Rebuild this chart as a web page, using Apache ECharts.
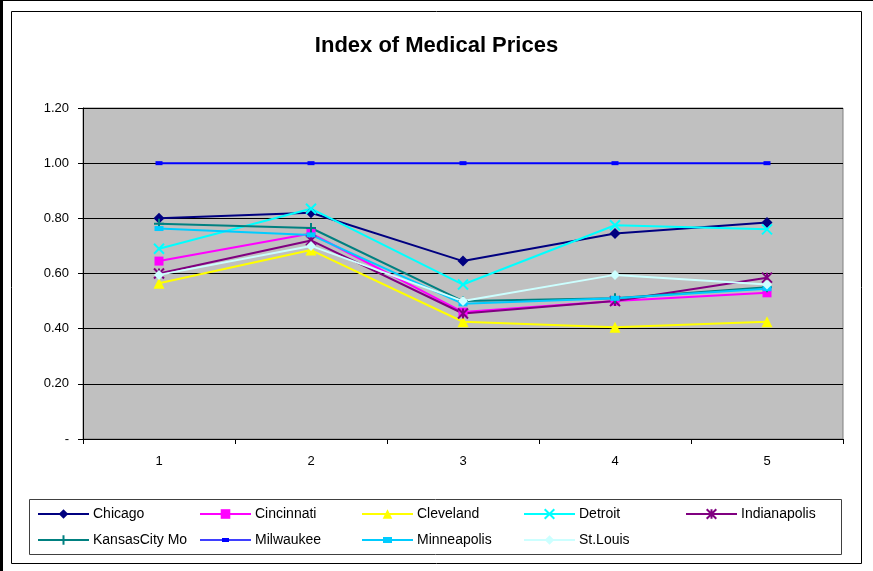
<!DOCTYPE html>
<html>
<head>
<meta charset="utf-8">
<script src="https://cdn.jsdelivr.net/npm/echarts@6/dist/echarts.min.js"></script>
<style>
  html, body { margin: 0; padding: 0; background: #fff; }
  #chart { width: 873px; height: 571px; }
</style>
</head>
<body>
<div id="chart"></div>
<script>
// Periods on the x axis
const periods = ['1', '2', '3', '4', '5'];

// Index values per city (Milwaukee = 1.00 base)
const chicago      = [0.80, 0.82, 0.645, 0.745, 0.785];
const cincinnati   = [0.645, 0.745, 0.46, 0.50, 0.53];
const cleveland    = [0.565, 0.685, 0.425, 0.405, 0.425];
const detroit      = [0.69, 0.835, 0.56, 0.775, 0.76];
const indianapolis = [0.60, 0.72, 0.455, 0.50, 0.585];
const kansasCity   = [0.78, 0.765, 0.50, 0.51, 0.55];
const milwaukee    = [1.00, 1.00, 1.00, 1.00, 1.00];
const minneapolis  = [0.763, 0.74, 0.49, 0.51, 0.545];
const stLouis      = [0.595, 0.70, 0.50, 0.595, 0.56];

const yTicks = [0, 0.2, 0.4, 0.6, 0.8, 1.0, 1.2];

// Legend columns (two rows, read left to right)
const legendColumns = [
  ['Chicago', 'KansasCity Mo'],
  ['Cincinnati', 'Milwaukee'],
  ['Cleveland', 'Minneapolis'],
  ['Detroit', 'St.Louis'],
  ['Indianapolis']
];

const FONT = 'Liberation Sans, Arial, sans-serif';

// Flat dash markers get their own legend glyph: a line with a small bar on it
const dashIcons = {
  'Milwaukee': 'path://M0,1.25h51v1.5h-51z M22,0h7v4h-7z',
  'Minneapolis': 'path://M0,2h51v2h-51z M21,0h9v6h-9z'
};

const seriesDefs = [
  { name: 'Chicago', data: chicago, color: '#000080', symbol: 'diamond', size: 11 },
  { name: 'Cincinnati', data: cincinnati, color: '#FF00FF', symbol: 'rect', size: 9 },
  { name: 'Cleveland', data: cleveland, color: '#FFFF00', symbol: 'triangle', size: 11 },
  { name: 'Detroit', data: detroit, color: '#00FFFF', symbol: 'path://M0,0L10,10M10,0L0,10', size: 10, stroke: true },
  { name: 'Indianapolis', data: indianapolis, color: '#800080', symbol: 'path://M0,0L10,10M10,0L0,10M5,0L5,10', size: 10, stroke: true },
  { name: 'KansasCity Mo', data: kansasCity, color: '#008080', symbol: 'path://M5,0L5,10M0,5L10,5', size: 10, stroke: true },
  { name: 'Milwaukee', data: milwaukee, color: '#0000FF', symbol: 'rect', size: [7, 4] },
  { name: 'Minneapolis', data: minneapolis, color: '#00CCFF', symbol: 'rect', size: [9, 5] },
  { name: 'St.Louis', data: stLouis, color: '#CCFFFF', symbol: 'diamond', size: 10 }
];

const series = seriesDefs.map(d => ({
  name: d.name,
  type: 'line',
  data: d.data,
  symbol: d.symbol,
  symbolSize: d.size,
  showAllSymbol: true,
  lineStyle: { color: d.color, width: 2 },
  itemStyle: d.stroke
    ? { color: d.color, borderColor: d.color, borderWidth: 2 }
    : { color: d.color, borderWidth: 0 },
  emphasis: { disabled: true }
}));

const legends = legendColumns.map((names, i) => ({
  left: 37 + i * 162,
  top: 507,
  padding: 0,
  orient: 'vertical',
  itemWidth: 51,
  itemHeight: 12,
  itemGap: 12,
  data: names.map(n => dashIcons[n] ? { name: n, icon: dashIcons[n] } : n),
  selectedMode: false,
  textStyle: { fontFamily: FONT, fontSize: 14, color: '#000', padding: [0, 0, 0, -1] }
}));

const chart = echarts.init(document.getElementById('chart'), null, { renderer: 'canvas' });
chart.setOption({
  animation: false,
  backgroundColor: '#ffffff',
  title: {
    text: 'Index of Medical Prices',
    left: 'center',
    top: 30,
    textStyle: { fontFamily: FONT, fontSize: 22, fontWeight: 'bold', color: '#000' }
  },
  graphic: [
    { type: 'rect', shape: { x: 0, y: 0, width: 3, height: 571 }, style: { fill: '#000' }, silent: true },
    { type: 'rect', shape: { x: 0, y: 0, width: 873, height: 1 }, style: { fill: '#000' }, silent: true },
    { type: 'rect', shape: { x: 11.5, y: 11.5, width: 850, height: 552 }, style: { fill: 'none', stroke: '#000', lineWidth: 1 }, silent: true, z: -1 },
    { type: 'rect', shape: { x: 29.5, y: 499.5, width: 812, height: 55 }, style: { fill: 'none', stroke: '#404040', lineWidth: 1 }, silent: true }
  ],
  legend: legends,
  grid: {
    left: 83, right: 30, top: 108, bottom: 132,
    show: true,
    backgroundColor: '#C0C0C0',
    borderColor: '#808080',
    borderWidth: 1
  },
  xAxis: {
    type: 'category',
    data: periods,
    boundaryGap: true,
    axisLine: { lineStyle: { color: '#000', width: 1 } },
    axisTick: { show: true, length: 5, lineStyle: { color: '#000' } },
    axisLabel: { margin: 16, fontFamily: FONT, fontSize: 13, color: '#000' },
    splitLine: { show: false }
  },
  yAxis: {
    type: 'value',
    min: yTicks[0],
    max: yTicks[yTicks.length - 1],
    interval: 0.2,
    axisLine: { show: true, lineStyle: { color: '#000', width: 1 } },
    axisTick: { show: true, length: 5, lineStyle: { color: '#000' } },
    axisLabel: {
      margin: 14,
      fontFamily: FONT,
      fontSize: 13,
      color: '#000',
      formatter: v => (Math.abs(v) < 1e-9 ? '-' : v.toFixed(2))
    },
    splitLine: { show: true, lineStyle: { color: '#000', width: 1 } }
  },
  series: series
});
</script>
</body>
</html>
